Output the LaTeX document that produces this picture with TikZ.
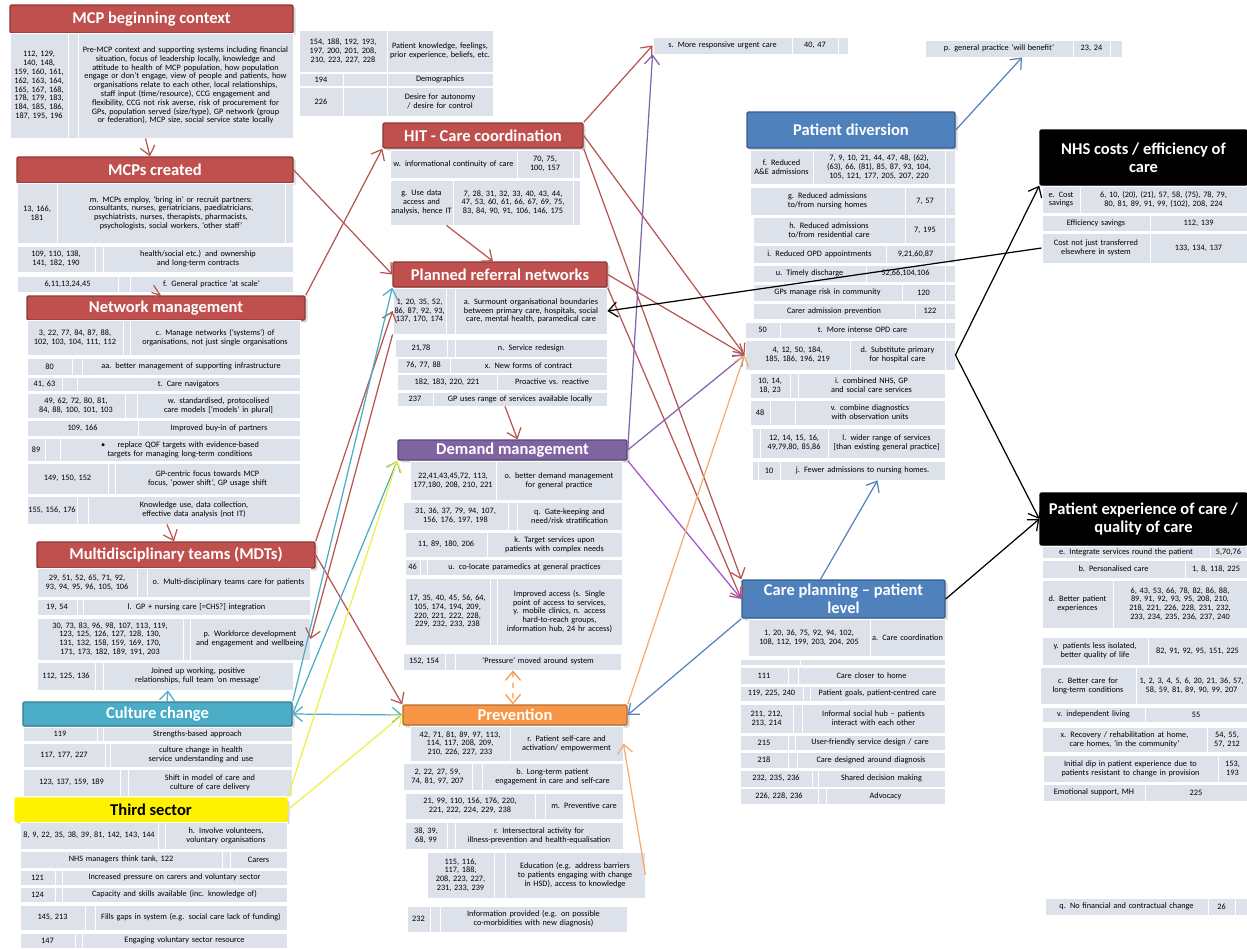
\documentclass[tikz,border=0pt]{standalone}
\usepackage{fontspec}
\setmainfont{Carlito}
\usetikzlibrary{arrows.meta,shadows}
\hyphenpenalty=10000
\exhyphenpenalty=10000
\definecolor{cellbg}{RGB}{221,226,234}
\definecolor{hred}{RGB}{192,80,77}
\definecolor{hredd}{RGB}{140,56,54}
\definecolor{hpur}{RGB}{128,100,162}
\definecolor{hpurd}{RGB}{92,71,118}
\definecolor{hblu}{RGB}{79,129,189}
\definecolor{hblud}{RGB}{56,93,138}
\definecolor{htea}{RGB}{75,172,198}
\definecolor{htead}{RGB}{53,125,145}
\definecolor{horg}{RGB}{247,150,70}
\definecolor{horgd}{RGB}{182,109,49}
\definecolor{ared}{RGB}{184,84,80}
\definecolor{apur}{RGB}{128,100,170}
\definecolor{amag}{RGB}{165,80,205}
\definecolor{atea}{RGB}{75,172,198}
\definecolor{ayel}{RGB}{238,238,70}
\definecolor{aorg}{RGB}{245,170,110}
\definecolor{ablu}{RGB}{85,130,185}

\begin{document}
\begin{tikzpicture}[x=0.2mm, y=-0.2mm,
    cl/.style n args={4}{draw=white, line width=0.5pt, fill=cellbg, inner sep=0pt,
      font=\fontsize{4.7}{5.0}\selectfont, align=center,
      at={({(#1+#3)/2},{(#2+#4)/2})},
      minimum width={(#3-#1)*0.2mm}, minimum height={(#4-#2)*0.2mm},
      text width={(#3-#1)*0.2mm-1.5pt}},
    hd/.style n args={4}{at={({(#1+#3)/2},{(#2+#4)/2})},
      minimum width={(#3-#1)*0.2mm}, minimum height={(#4-#2)*0.2mm},
      inner sep=0pt, align=center, line width=0.8pt, rounded corners=0.8pt,
      font=\bfseries\fontsize{9.4}{10.4}\selectfont,
      drop shadow={opacity=0.3, shadow xshift=0.5mm, shadow yshift=-0.5mm}},
    redhd/.style={fill=hred, draw=hredd, text=white},
    purhd/.style={fill=hpur, draw=hpurd, text=white},
    bluhd/.style={fill=hblu, draw=hblud, text=white},
    teahd/.style={fill=htea, draw=htead, text=white},
    orghd/.style={fill=horg, draw=horgd, text=white},
    yelhd/.style={fill=yellow, draw=yellow, text=black},
    blkhd/.style={fill=black, draw=black, text=white},
    ar/.style={line width=0.7pt, -{Straight Barb[length=1.8mm, width=3mm]}},
    ar2/.style={line width=0.7pt, {Straight Barb[length=1.8mm, width=3mm]}-{Straight Barb[length=1.8mm, width=3mm]}}]
\useasboundingbox (0,0) rectangle (1247,949);

% MCP beginning context
\node[hd={10}{5}{293}{33}, redhd] (ctx) {MCP beginning context};
\node[cl={10}{33}{68}{138}] (ctx1a) {112, 129, 140, 148, 159, 160, 161, 162, 163, 164, 165, 167, 168, 178, 179, 183, 184, 185, 186, 187, 195, 196};
\node[cl={68}{33}{78}{138}] (ctx1b) {};
\node[cl={78}{33}{293}{138}] (ctx1c) {Pre-MCP context and supporting systems including financial situation, focus of leadership locally, knowledge and attitude to health of MCP population, how population engage or don't engage, view of people and patients, how organisations relate to each other, local relationships, staff input (time/resource), CCG engagement and flexibility, CCG not risk averse, risk of procurement for GPs, population served (size/type), GP network (group or federation), MCP size, social service state locally};
\node[cl={299}{30}{387}{72}] (pk1a) {154, 188, 192, 193, 197, 200, 201, 208, 210, 223, 227, 228};
\node[cl={387}{30}{493}{72}] (pk1b) {Patient knowledge, feelings, prior experience, beliefs, etc.};
\node[cl={299}{73}{343}{86}] (pk2a) {194};
\node[cl={343}{73}{387}{86}] (pk2b) {};
\node[cl={387}{73}{493}{86}] (pk2c) {Demographics};
\node[cl={299}{87}{343}{116}] (pk3a) {226};
\node[cl={343}{87}{387}{116}] (pk3b) {};
\node[cl={387}{87}{493}{116}] (pk3c) {Desire for autonomy / desire for control};

% MCPs created
\node[hd={17}{157}{293}{183}, redhd] (mcp) {MCPs created};
\node[cl={17}{183}{57}{243}] (mcp1a) {13, 166, 181};
\node[cl={57}{183}{285}{243}] (mcp1b) {m. MCPs employ, `bring in' or recruit partners: consultants, nurses, geriatricians, paediatricians, psychiatrists, nurses, therapists, pharmacists, psychologists, social workers, `other staff'};
\node[cl={285}{183}{293}{243}] (mcp1c) {};
\node[cl={17}{246}{95}{272}] (mcp2a) {109, 110, 138, 141, 182, 190};
\node[cl={95}{246}{103}{272}] (mcp2b) {};
\node[cl={103}{246}{293}{272}] (mcp2c) {health/social etc.) and ownership and long-term contracts};
\node[cl={17}{276}{118}{292}] (mcp3a) {6,11,13,24,45};
\node[cl={118}{276}{130}{292}] (mcp3b) {};
\node[cl={130}{276}{293}{292}] (mcp3c) {f. General practice `at scale'};

% Network management
\node[hd={27}{296}{305}{320}, redhd] (net) {Network management};
\node[cl={27}{320}{123}{355}] (net1a) {3, 22, 77, 84, 87, 88, 102, 103, 104, 111, 112};
\node[cl={123}{320}{130}{355}] (net1b) {};
\node[cl={130}{320}{300}{355}] (net1c) {c. Manage networks (`systems') of organisations, not just single organisations};
\node[cl={27}{358}{72}{375}] (net2a) {80};
\node[cl={72}{358}{82}{375}] (net2b) {};
\node[cl={82}{358}{300}{375}] (net2c) {aa. better management of supporting infrastructure};
\node[cl={27}{377}{62}{391}] (net3a) {41, 63};
\node[cl={62}{377}{77}{391}] (net3b) {};
\node[cl={77}{377}{300}{391}] (net3c) {t. Care navigators};
\node[cl={27}{393}{125}{418}] (net4a) {49, 62, 72, 80, 81, 84, 88, 100, 101, 103};
\node[cl={125}{393}{137}{418}] (net4b) {};
\node[cl={137}{393}{300}{418}] (net4c) {w. standardised, protocolised care models [`models' in plural]};
\node[cl={27}{420}{138}{436}] (net5a) {109, 166};
\node[cl={138}{420}{300}{436}] (net5b) {Improved buy-in of partners};
\node[cl={27}{438}{45}{461}] (net6a) {89};
\node[cl={45}{438}{60}{461}] (net6b) {};
\node[cl={60}{438}{300}{461}] (net6c) {\textbullet\hspace{1.5em}replace QOF targets with evidence-based targets for managing long-term conditions};
\node[cl={27}{463}{108}{494}] (net7a) {149, 150, 152};
\node[cl={108}{463}{115}{494}] (net7b) {};
\node[cl={115}{463}{300}{494}] (net7c) {GP-centric focus towards MCP focus, `power shift', GP usage shift};
\node[cl={27}{496}{77}{524}] (net8a) {155, 156, 176};
\node[cl={77}{496}{88}{524}] (net8b) {};
\node[cl={88}{496}{300}{524}] (net8c) {Knowledge use, data collection, effective data analysis (not IT)};

% MDTs
\node[hd={37}{542}{315}{568}, redhd] (mdt) {Multidisciplinary teams (MDTs)};
\node[cl={37}{568}{137}{597}] (mdt1a) {29, 51, 52, 65, 71, 92, 93, 94, 95, 96, 105, 106};
\node[cl={137}{568}{147}{597}] (mdt1b) {};
\node[cl={147}{568}{310}{597}] (mdt1c) {o. Multi-disciplinary teams care for patients};
\node[cl={37}{599}{77}{615}] (mdt2a) {19, 54};
\node[cl={77}{599}{83}{615}] (mdt2b) {};
\node[cl={83}{599}{310}{615}] (mdt2c) {l. GP + nursing care [=CHS?] integration};
\node[cl={37}{618}{183}{660}] (mdt3a) {30, 73, 83, 96, 98, 107, 113, 119, 123, 125, 126, 127, 128, 130, 131, 132, 158, 159, 169, 170, 171, 173, 182, 189, 191, 203};
\node[cl={183}{618}{190}{660}] (mdt3b) {};
\node[cl={190}{618}{310}{660}] (mdt3c) {p. Workforce development and engagement and wellbeing};
\node[cl={37}{662}{95}{690}] (mdt4a) {112, 125, 136};
\node[cl={95}{662}{103}{690}] (mdt4b) {};
\node[cl={103}{662}{293}{690}] (mdt4c) {Joined up working, positive relationships, full team `on message'};

% Culture change
\node[hd={23}{702}{292}{726}, teahd] (cul) {Culture change};
\node[cl={23}{727}{97}{741}] (cul1a) {119};
\node[cl={97}{727}{103}{741}] (cul1b) {};
\node[cl={103}{727}{292}{741}] (cul1c) {Strengths-based approach};
\node[cl={23}{743}{105}{767}] (cul2a) {117, 177, 227};
\node[cl={105}{743}{110}{767}] (cul2b) {};
\node[cl={110}{743}{292}{767}] (cul2c) {culture change in health service understanding and use};
\node[cl={23}{769}{120}{796}] (cul3a) {123, 137, 159, 189};
\node[cl={120}{769}{128}{796}] (cul3b) {};
\node[cl={128}{769}{292}{796}] (cul3c) {Shift in model of care and culture of care delivery};

% Third sector
\node[hd={15}{798}{287}{822}, yelhd] (thr) {Third sector};
\node[cl={20}{822}{158}{849}] (thr1a) {8, 9, 22, 35, 38, 39, 81, 142, 143, 144};
\node[cl={158}{822}{165}{849}] (thr1b) {};
\node[cl={165}{822}{287}{849}] (thr1c) {h. Involve volunteers, voluntary organisations};
\node[cl={20}{851}{222}{868}] (thr2a) {NHS managers think tank, 122};
\node[cl={222}{851}{230}{868}] (thr2b) {};
\node[cl={230}{851}{287}{868}] (thr2c) {Carers};
\node[cl={20}{870}{55}{885}] (thr3a) {121};
\node[cl={55}{870}{62}{885}] (thr3b) {};
\node[cl={62}{870}{287}{885}] (thr3c) {Increased pressure on carers and voluntary sector};
\node[cl={20}{887}{55}{902}] (thr4a) {124};
\node[cl={55}{887}{62}{902}] (thr4b) {};
\node[cl={62}{887}{287}{902}] (thr4c) {Capacity and skills available (inc. knowledge of)};
\node[cl={20}{905}{85}{930}] (thr5a) {145, 213};
\node[cl={85}{905}{95}{930}] (thr5b) {};
\node[cl={95}{905}{287}{930}] (thr5c) {Fills gaps in system (e.g. social care lack of funding)};
\node[cl={20}{933}{75}{948}] (thr6a) {147};
\node[cl={75}{933}{82}{948}] (thr6b) {};
\node[cl={82}{933}{287}{948}] (thr6c) {Engaging voluntary sector resource};

% HIT - Care coordination
\node[hd={383}{123}{583}{148}, redhd] (hit) {HIT - Care coordination};
\node[cl={390}{150}{517}{178}] (hit1a) {w. informational continuity of care};
\node[cl={517}{150}{573}{178}] (hit1b) {70, 75, 100, 157};
\node[cl={573}{150}{580}{178}] (hit1c) {};
\node[cl={390}{180}{453}{225}] (hit2a) {g. Use data access and analysis, hence IT};
\node[cl={453}{180}{573}{225}] (hit2b) {7, 28, 31, 32, 33, 40, 43, 44, 47, 53, 60, 61, 66, 67, 69, 75, 83, 84, 90, 91, 106, 146, 175};
\node[cl={573}{180}{580}{225}] (hit2c) {};

% Planned referral networks
\node[hd={393}{262}{607}{287}, redhd] (ref) {Planned referral networks};
\node[cl={393}{288}{446}{334}] (ref1a) {1, 20, 35, 52, 86, 87, 92, 93, 137, 170, 174};
\node[cl={446}{288}{455}{334}] (ref1b) {};
\node[cl={455}{288}{607}{334}] (ref1c) {a. Surmount organisational boundaries between primary care, hospitals, social care, mental health, paramedical care};
\node[cl={395}{339}{447}{357}] (ref2a) {21,78};
\node[cl={447}{339}{455}{357}] (ref2b) {};
\node[cl={455}{339}{607}{357}] (ref2c) {n. Service redesign};
\node[cl={397}{358}{450}{373}] (ref3a) {76, 77, 88};
\node[cl={450}{358}{607}{373}] (ref3b) {x. New forms of contract};
\node[cl={397}{374}{497}{390}] (ref4a) {182, 183, 220, 221};
\node[cl={497}{374}{607}{390}] (ref4b) {Proactive vs. reactive};
\node[cl={397}{392}{433}{406}] (ref5a) {237};
\node[cl={433}{392}{607}{406}] (ref5b) {GP uses range of services available locally};

% Demand management
\node[hd={398}{440}{627}{460}, purhd] (dem) {Demand management};
\node[cl={410}{461}{496}{500}] (dem1a) {22,41,43,45,72, 113, 177,180, 208, 210, 221};
\node[cl={496}{461}{622}{500}] (dem1b) {o. better demand management for general practice};
\node[cl={403}{502}{508}{530}] (dem2a) {31, 36, 37, 79, 94, 107, 156, 176, 197, 198};
\node[cl={508}{502}{517}{530}] (dem2b) {};
\node[cl={517}{502}{622}{530}] (dem2c) {q. Gate-keeping and need/risk stratification};
\node[cl={405}{532}{487}{557}] (dem3a) {11, 89, 180, 206};
\node[cl={487}{532}{622}{557}] (dem3b) {k. Target services upon patients with complex needs};
\node[cl={405}{559}{420}{575}] (dem4a) {46};
\node[cl={420}{559}{427}{575}] (dem4b) {};
\node[cl={427}{559}{622}{575}] (dem4c) {u. co-locate paramedics at general practices};
\node[cl={405}{578}{490}{645}] (dem5a) {17, 35, 40, 45, 56, 64, 105, 174, 194, 209, 220, 221, 222, 228, 229, 232, 233, 238};
\node[cl={490}{578}{497}{645}] (dem5b) {};
\node[cl={497}{578}{622}{645}] (dem5c) {Improved access (s. Single point of access to services, y. mobile clinics, n. access hard-to-reach groups, information hub, 24 hr access)};
\node[cl={403}{653}{445}{670}] (dem6a) {152, 154};
\node[cl={445}{653}{455}{670}] (dem6b) {};
\node[cl={455}{653}{621}{670}] (dem6c) {`Pressure' moved around system};

% Prevention
\node[hd={403}{705}{627}{725}, orghd] (pre) {Prevention};
\node[cl={410}{726}{510}{761}] (pre1a) {42, 71, 81, 89, 97, 113, 114, 117, 208, 209, 210, 226, 227, 233};
\node[cl={510}{726}{623}{761}] (pre1b) {r. Patient self-care and activation/ empowerment};
\node[cl={403}{763}{472}{790}] (pre2a) {2, 22, 27, 59, 74, 81, 97, 207};
\node[cl={472}{763}{482}{790}] (pre2b) {};
\node[cl={482}{763}{623}{790}] (pre2c) {b. Long-term patient engagement in care and self-care};
\node[cl={405}{793}{535}{819}] (pre3a) {21, 99, 110, 156, 176, 220, 221, 222, 224, 229, 238};
\node[cl={535}{793}{545}{819}] (pre3b) {};
\node[cl={545}{793}{623}{819}] (pre3c) {m. Preventive care};
\node[cl={405}{822}{447}{849}] (pre4a) {38, 39, 68, 99};
\node[cl={447}{822}{455}{849}] (pre4b) {};
\node[cl={455}{822}{623}{849}] (pre4c) {r. Intersectoral activity for illness-prevention and health-equalisation};
\node[cl={427}{852}{494}{898}] (pre5a) {115, 116, 117, 188, 208, 223, 227, 231, 233, 239};
\node[cl={494}{852}{505}{898}] (pre5b) {};
\node[cl={505}{852}{645}{898}] (pre5c) {Education (e.g. address barriers to patients engaging with change in HSD), access to knowledge};
\node[cl={407}{906}{430}{932}] (pre6a) {232};
\node[cl={430}{906}{440}{932}] (pre6b) {};
\node[cl={440}{906}{627}{932}] (pre6c) {Information provided (e.g. on possible co-morbidities with new diagnosis)};

% outcomes
\node[cl={653}{37}{792}{54}] (urg1) {s. More responsive urgent care};
\node[cl={792}{37}{838}{54}] (urg2) {40, 47};
\node[cl={838}{37}{848}{54}] (urg3) {};
\node[cl={925}{40}{1073}{57}] (gpb1) {p. general practice `will benefit'};
\node[cl={1073}{40}{1110}{57}] (gpb2) {23, 24};
\node[cl={1110}{40}{1122}{57}] (gpb3) {};
\node[cl={1045}{898}{1208}{915}] (nof1) {q. No financial and contractual change};
\node[cl={1208}{898}{1235}{915}] (nof2) {26};
\node[cl={1235}{898}{1247}{915}] (nof3) {};

% Patient diversion
\node[hd={747}{112}{955}{148}, bluhd] (div) {Patient diversion};
\node[cl={750}{150}{813}{184}] (div1a) {f. Reduced A\&E admissions};
\node[cl={813}{150}{945}{184}] (div1b) {7, 9, 10, 21, 44, 47, 48, (62), (63), 66, (81), 85, 87, 93, 104, 105, 121, 177, 205, 207, 220};
\node[cl={945}{150}{955}{184}] (div1c) {};
\node[cl={750}{187}{905}{215}] (div2a) {g. Reduced admissions to/from nursing homes};
\node[cl={905}{187}{945}{215}] (div2b) {7, 57};
\node[cl={945}{187}{955}{215}] (div2c) {};
\node[cl={753}{217}{905}{243}] (div3a) {h. Reduced admissions to/from residential care};
\node[cl={905}{217}{945}{243}] (div3b) {7, 195};
\node[cl={945}{217}{955}{243}] (div3c) {};
\node[cl={753}{245}{886}{263}] (div4a) {i. Reduced OPD appointments};
\node[cl={886}{245}{945}{263}] (div4b) {9,21,60,87};
\node[cl={945}{245}{955}{263}] (div4c) {};
\node[cl={753}{265}{866}{282}] (div5a) {u. Timely discharge};
\node[cl={866}{265}{945}{282}] (div5b) {52,66,104,106};
\node[cl={945}{265}{955}{282}] (div5c) {};
\node[cl={753}{284}{902}{301}] (div6a) {GPs manage risk in community};
\node[cl={902}{284}{945}{301}] (div6b) {120};
\node[cl={945}{284}{955}{301}] (div6c) {};
\node[cl={753}{303}{915}{319}] (div7a) {Carer admission prevention};
\node[cl={915}{303}{945}{319}] (div7b) {122};
\node[cl={945}{303}{955}{319}] (div7c) {};
\node[cl={745}{322}{780}{338}] (div8a) {50};
\node[cl={780}{322}{945}{338}] (div8b) {t. More intense OPD care};
\node[cl={945}{322}{955}{338}] (div8c) {};
\node[cl={745}{340}{850}{370}] (div9a) {4, 12, 50, 184, 185, 186, 196, 219};
\node[cl={850}{340}{945}{370}] (div9b) {d. Substitute primary for hospital care};
\node[cl={945}{340}{955}{370}] (div9c) {};
\node[cl={750}{373}{790}{398}] (div10a) {10, 14, 18, 23};
\node[cl={790}{373}{798}{398}] (div10b) {};
\node[cl={798}{373}{945}{398}] (div10c) {i. combined NHS, GP and social care services};
\node[cl={750}{400}{770}{425}] (div11a) {48};
\node[cl={770}{400}{795}{425}] (div11b) {};
\node[cl={795}{400}{945}{425}] (div11c) {v. combine diagnostics with observation units};
\node[cl={752}{428}{760}{458}] (div12a) {};
\node[cl={760}{428}{828}{458}] (div12b) {12, 14, 15, 16, 49,79,80, 85,86};
\node[cl={828}{428}{945}{458}] (div12c) {l. wider range of services [than existing general practice]};
\node[cl={752}{461}{758}{480}] (div13a) {};
\node[cl={758}{461}{780}{480}] (div13b) {10};
\node[cl={780}{461}{945}{480}] (div13c) {j. Fewer admissions to nursing homes.};

% NHS costs
\node[hd={1040}{130}{1247}{185}, blkhd] (cst) {NHS costs / efficiency of\\ care};
\node[cl={1042}{186}{1080}{213}] (cst1a) {e. Cost savings};
\node[cl={1080}{186}{1247}{213}] (cst1b) {6, 10, (20), (21), 57, 58, (75), 78, 79, 80, 81, 89, 91, 99, (102), 208, 224};
\node[cl={1042}{215}{1150}{231}] (cst2a) {Efficiency savings};
\node[cl={1150}{215}{1247}{231}] (cst2b) {112, 139};
\node[cl={1042}{233}{1150}{263}] (cst3a) {Cost not just transferred elsewhere in system};
\node[cl={1150}{233}{1247}{263}] (cst3b) {133, 134, 137};

% Care planning
\node[hd={742}{580}{945}{618}, bluhd] (cpl) {Care planning -- patient\\ level};
\node[cl={748}{619}{870}{656}] (cpl1a) {1, 20, 36, 75, 92, 94, 102, 108, 112, 199, 203, 204, 205};
\node[cl={870}{619}{945}{656}] (cpl1b) {a. Care coordination};
\node[cl={740}{659}{800}{665}] (cpl2a) {};
\node[cl={800}{659}{945}{665}] (cpl2b) {};
\node[cl={740}{667}{788}{684}] (cpl3a) {111};
\node[cl={788}{667}{798}{684}] (cpl3b) {};
\node[cl={798}{667}{945}{684}] (cpl3c) {Care closer to home};
\node[cl={740}{686}{803}{701}] (cpl4a) {119, 225, 240};
\node[cl={803}{686}{810}{701}] (cpl4b) {};
\node[cl={810}{686}{945}{701}] (cpl4c) {Patient goals, patient-centred care};
\node[cl={740}{704}{793}{733}] (cpl5a) {211, 212, 213, 214};
\node[cl={793}{704}{802}{733}] (cpl5b) {};
\node[cl={802}{704}{945}{733}] (cpl5c) {Informal social hub -- patients interact with each other};
\node[cl={740}{735}{788}{750}] (cpl6a) {215};
\node[cl={788}{735}{795}{750}] (cpl6b) {};
\node[cl={795}{735}{945}{750}] (cpl6c) {User-friendly service design / care};
\node[cl={740}{752}{788}{768}] (cpl7a) {218};
\node[cl={788}{752}{797}{768}] (cpl7b) {};
\node[cl={797}{752}{945}{768}] (cpl7c) {Care designed around diagnosis};
\node[cl={740}{770}{812}{787}] (cpl8a) {232, 235, 236};
\node[cl={812}{770}{818}{787}] (cpl8b) {};
\node[cl={818}{770}{945}{787}] (cpl8c) {Shared decision making};
\node[cl={740}{788}{818}{804}] (cpl9a) {226, 228, 236};
\node[cl={818}{788}{826}{804}] (cpl9b) {};
\node[cl={826}{788}{945}{804}] (cpl9c) {Advocacy};

% Patient experience
\node[hd={1040}{493}{1247}{545}, blkhd] (exp) {Patient experience of care /\\ quality of care};
\node[cl={1042}{546}{1210}{558}] (exp1a) {e. Integrate services round the patient};
\node[cl={1210}{546}{1247}{558}] (exp1b) {5,70,76};
\node[cl={1042}{560}{1185}{578}] (exp2a) {b. Personalised care};
\node[cl={1185}{560}{1247}{578}] (exp2b) {1, 8, 118, 225};
\node[cl={1042}{580}{1113}{628}] (exp3a) {d. Better patient experiences};
\node[cl={1113}{580}{1247}{628}] (exp3b) {6, 43, 53, 66, 78, 82, 86, 88, 89, 91, 92, 93, 95, 208, 210, 218, 221, 226, 228, 231, 232, 233, 234, 235, 236, 237, 240};
\node[cl={1042}{637}{1148}{665}] (exp4a) {y. patients less isolated, better quality of life};
\node[cl={1148}{637}{1247}{665}] (exp4b) {82, 91, 92, 95, 151, 225};
\node[cl={1040}{667}{1136}{704}] (exp5a) {c. Better care for long-term conditions};
\node[cl={1136}{667}{1247}{704}] (exp5b) {1, 2, 3, 4, 5, 6, 20, 21, 36, 57, 58, 59, 81, 89, 90, 99, 207};
\node[cl={1042}{707}{1145}{722}] (exp6a) {v. independent living};
\node[cl={1145}{707}{1247}{722}] (exp6b) {55};
\node[cl={1042}{727}{1207}{752}] (exp7a) {x. Recovery / rehabilitation at home, care homes, `in the community'};
\node[cl={1207}{727}{1247}{752}] (exp7b) {54, 55, 57, 212};
\node[cl={1043}{755}{1218}{782}] (exp8a) {Initial dip in patient experience due to patients resistant to change in provision};
\node[cl={1218}{755}{1247}{782}] (exp8b) {153, 193};
\node[cl={1043}{784}{1145}{801}] (exp9a) {Emotional support, MH};
\node[cl={1145}{784}{1247}{801}] (exp9b) {225};

% links
\draw[ar, ared] ([xshift=-8mm]ctx1c.south) -- ([xshift=-1mm]mcp.north);
\draw[ar, ared] ([xshift=-12mm]mcp3c.south) -- ([xshift=-1mm]net.north);
\draw[ar, ared] ([xshift=-5.4mm]net8c.south) -- ([xshift=-0.4mm]mdt.north);
\draw[ar, ared] (mcp.east) -- (ref.west);
\draw[ar, ared] (net.north east) -- (hit.south west);
\draw[ar, ared] ([xshift=5mm]hit2a.south) -- ([xshift=-1.4mm]ref.north);
\draw[ar, ared] ([xshift=-3mm]ref5b.south) -- ([xshift=1mm]dem.north);
\draw[ar, ared] (hit.north east) -- (urg1.west);
\draw[ar, ared] (hit.east) -- (div9a.west);
\draw[ar, ared] (hit.south east) -- (cpl.north west);
\draw[ar, ared] (ref.east) -- (div9a.west);
\draw[ar, ared] (ref.south east) -- (cpl.west);
\draw[ar, ared] (mdt.north east) -- (ref1a.west);
\draw[ar, ared] (ref1a.south west) -- (mdt3c.east);
\draw[ar, ared] (mdt.east) -- (pre.north west);
\draw[ar, atea] ([xshift=1.9mm]cul.north) -- ([xshift=-6mm]mdt4c.south);
\draw[ar, atea] (cul.north east) -- (ref.south west);
\draw[ar, atea] (cul.east) -- (dem.south west);
\draw[ar2, atea] (cul.east) -- (pre.west);
\draw[ar, ayel] (thr.north east) -- (dem.south west);
\draw[ar, ayel] (thr.east) -- (pre.west);
\draw[ar, apur] (dem.east) -- (urg1.south west);
\draw[ar, apur] (dem.east) -- (div9a.west);
\draw[ar, amag] (dem.south east) -- (cpl.west);
\draw[ar, aorg] (pre.north east) -- (div9a.west);
\draw[ar2, horg, dashed] ([xshift=-5mm]dem6c.south) -- ([xshift=-0.4mm]pre.north);
\draw[ar, aorg] (pre5c.east) -- (pre1b.east);
\draw[ar, ablu] (cpl.south west) -- (pre.east);
\draw[ar, ablu] ([xshift=-4.6mm]cpl.north) -- ([xshift=3mm]div13c.south);
\draw[ar, ablu] (div.east) -- ([xshift=4.6mm]gpb1.south);
\draw[ar] (cpl.east) -- (exp.west);
\draw[ar] (div9c.east) -- (cst.south west);
\draw[ar] (div9c.east) -- (exp.west);
\draw[ar] (cst3a.west) -- (ref1c.east);
\end{tikzpicture}
\end{document}
